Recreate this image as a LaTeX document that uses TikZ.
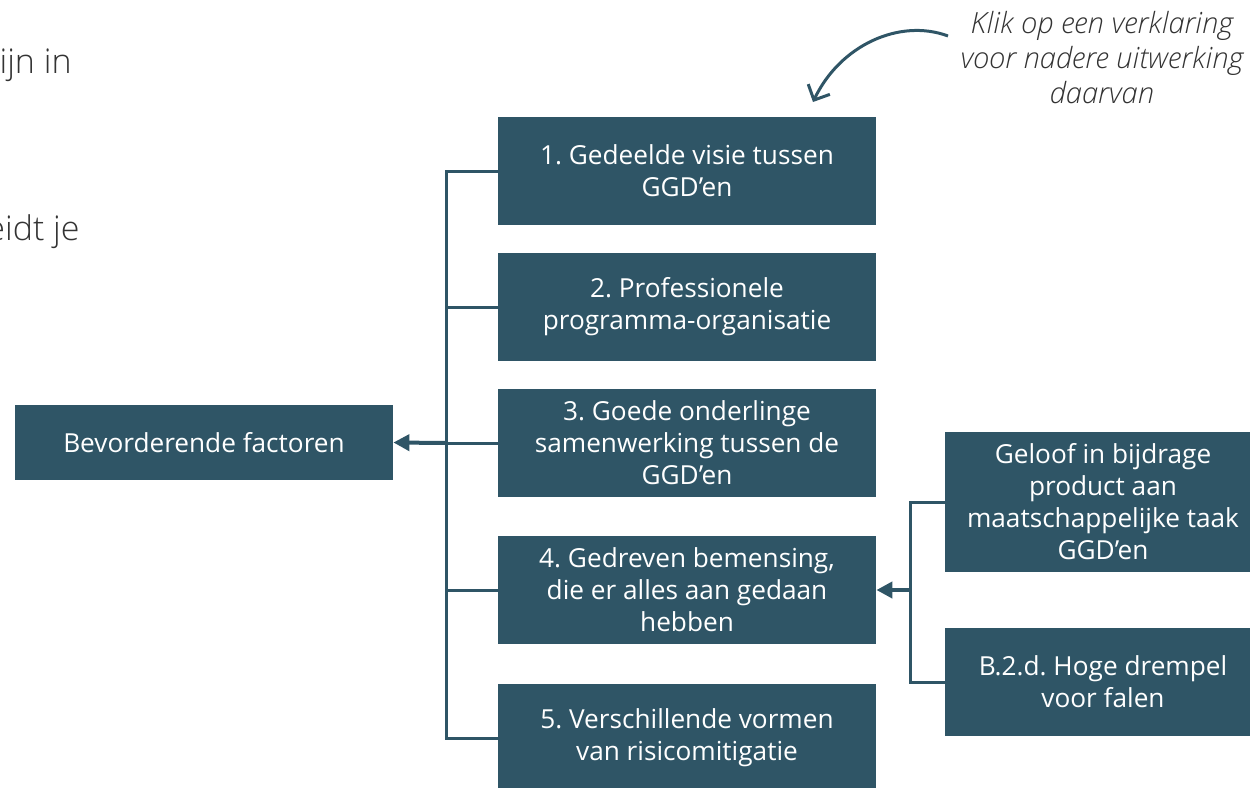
\documentclass[tikz,border=0pt]{standalone}
\usepackage{fontspec}
\setmainfont{Open Sans}
\newfontfamily\lightfont{Open Sans Light}
\usetikzlibrary{arrows.meta}
\definecolor{boxc}{HTML}{2F5566}
\definecolor{txtc}{HTML}{333333}
\frenchspacing
\begin{document}
\begin{tikzpicture}[x=0.5pt,y=-0.5pt,
  box/.style={fill=boxc,text=white,align=center,minimum width=189pt,minimum height=54pt,inner sep=0pt,font=\fontsize{13.1}{16}\selectfont},
  conn/.style={draw=boxc,line width=1.5pt},
  arr/.style={draw=boxc,line width=2pt,-{Triangle[length=8pt,width=8pt]}},
  curvearr/.style={draw=boxc,line width=1.5pt,-{Straight Barb[length=6pt,width=12pt,line width=1.5pt]}},
  frag/.style={text=txtc,inner sep=0pt,font=\lightfont\fontsize{17}{20}\selectfont},
  note/.style={text=txtc,align=center,inner sep=0pt,font=\lightfont\itshape\fontsize{14.6}{17.5}\selectfont}]
\useasboundingbox (0,0) rectangle (1250,788);
\clip (0,0) rectangle (1250,788);
\node[frag,anchor=base east] (f1) at (72,73) {ijn in};
\node[frag,anchor=base east] (f2) at (80,240) {eidt je};
\node[note] (n) at (1102,58) {Klik op een verklaring\\voor nadere uitwerking\\daarvan};
\node[box] (b1) at (687,171) {1. Gedeelde visie tussen\\GGD’en};
\node[box] (b2) at (687,307) {2. Professionele\\programma-organisatie};
\node[box] (b3) at (687,443) {3. Goede onderlinge\\samenwerking tussen de\\GGD’en};
\node[box] (b4) at (687,590) {4. Gedreven bemensing,\\die er alles aan gedaan\\hebben};
\node[box] (b5) at (687,738) {5. Verschillende vormen\\van risicomitigatie};
\node[box,minimum height=37.5pt] (L) at (204,442.5) {Bevorderende factoren};
\node[box,minimum width=158pt,minimum height=70pt] (A) at (1103,502) {Geloof in bijdrage\\product aan\\maatschappelijke taak\\GGD’en};
\node[box,minimum width=158pt] (B) at (1103,682) {B.2.d. Hoge drempel\\voor falen};
\coordinate (jt) at (446,443);
\coordinate (jr) at (910,590);
\coordinate (cs) at (948,36);
\coordinate (ce) at (813,102);
\draw[conn] (b1.west) -| (jt) |- (b5.west);
\draw[conn] (b2.west) -- (b2.west -| jt);
\draw[conn] (b3.west) -- (jt);
\draw[conn] (b4.west) -- (b4.west -| jt);
\draw[arr] (jt) -- (L.east);
\draw[conn] (A.west) -| (jr) |- (B.west);
\draw[arr] (jr) -- (b4.east);
\draw[curvearr] (cs) .. controls (900,18) and (840,45) .. (ce);
\end{tikzpicture}
\end{document}
